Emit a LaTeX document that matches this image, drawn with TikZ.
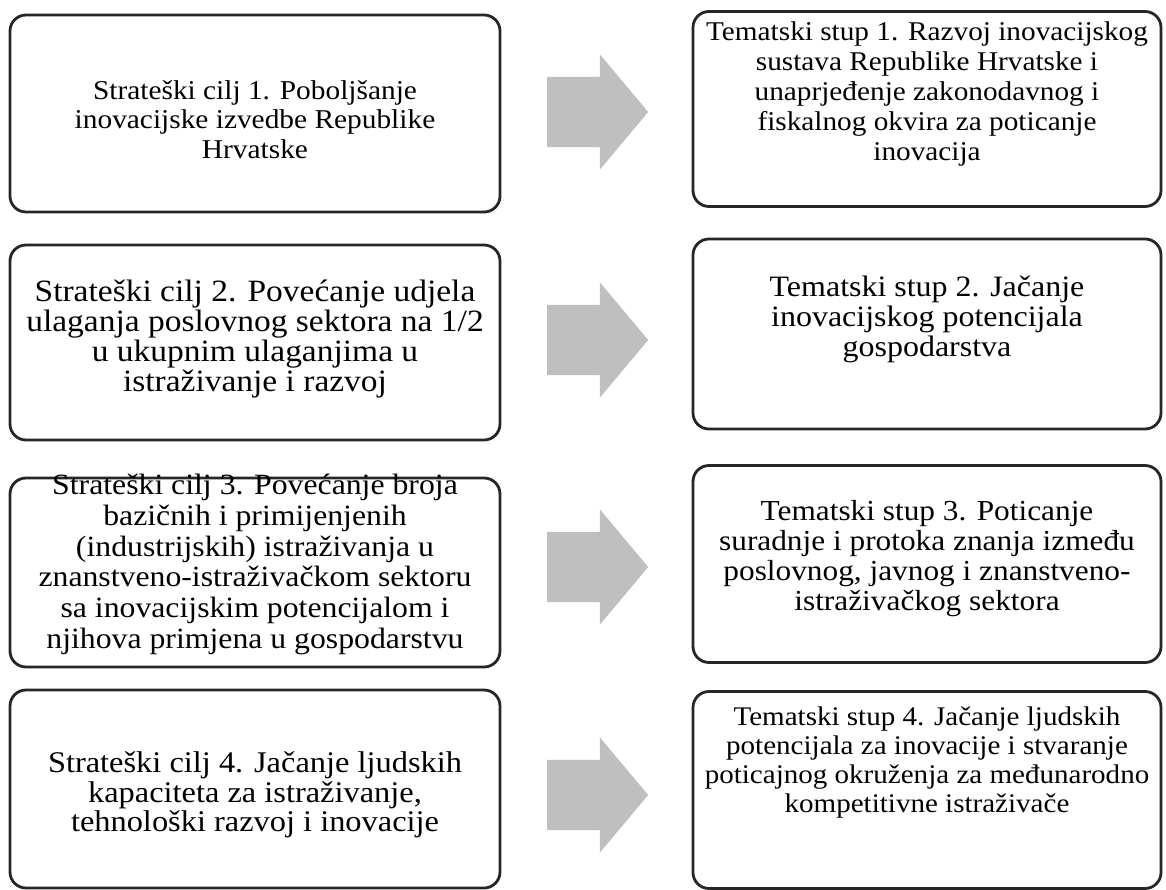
\documentclass[tikz,border=0pt]{standalone}
\usepackage{fontspec}
\setmainfont{Liberation Serif}[FakeStretch=1.08]
\usepackage{tikz}
\usetikzlibrary{shapes.arrows,calc}

\begin{document}
\begin{tikzpicture}[x=1pt,y=-1pt]
	\tikzstyle{goalbox}=[draw=black!85, line width=2.8pt, rounded corners=16pt, fill=white];
	\tikzstyle{pillarbox}=[goalbox, minimum width=468pt];
	\tikzstyle{stepbox}=[goalbox, minimum width=490pt];
	\tikzstyle{boxtext}=[align=center, inner sep=0pt];
	\tikzstyle{blockarrow}=[single arrow, fill=black!25, draw=none, inner xsep=0pt, inner ysep=35pt, minimum height=101pt, single arrow head extend=22.5pt, single arrow tip angle=100, anchor=tail];

	\useasboundingbox (0,0) rectangle (1166,890);

	% strateski ciljevi
	\node[stepbox, minimum height=197pt] (cilj1) at (255,113.5) {};
	\node[stepbox, minimum height=195pt] (cilj2) at (255,342.5) {};
	\node[stepbox, minimum height=189pt] (cilj3) at (255,572.5) {};
	\node[stepbox, minimum height=198pt] (cilj4) at (255,789) {};

	\node[boxtext, font=\fontsize{27.2}{29.5}\selectfont] (cilj1txt) at ($(cilj1)+(0,6)$) {Strateški cilj 1. Poboljšanje\\inovacijske izvedbe Republike\\Hrvatske};
	\node[boxtext, font=\fontsize{31}{30}\selectfont] (cilj2txt) at ($(cilj2)+(0,-3)$) {Strateški cilj 2. Povećanje udjela\\ulaganja poslovnog sektora na 1/2\\u ukupnim ulaganjima u\\istraživanje i razvoj};
	\node[boxtext, font=\fontsize{29.4}{30.7}\selectfont] (cilj3txt) at ($(cilj3)+(0,-8)$) {Strateški cilj 3. Povećanje broja\\bazičnih i primijenjenih\\(industrijskih) istraživanja u\\znanstveno-istraživačkom sektoru\\sa inovacijskim potencijalom i\\njihova primjena u gospodarstvu};
	\node[boxtext, font=\fontsize{30}{29.5}\selectfont] (cilj4txt) at ($(cilj4)+(0,6)$) {Strateški cilj 4. Jačanje ljudskih\\kapaciteta za istraživanje,\\tehnološki razvoj i inovacije};

	% tematski stupovi
	\node[pillarbox, minimum height=195pt] (stup1) at (927,109) {};
	\node[pillarbox, minimum height=190pt] (stup2) at (927,334) {};
	\node[pillarbox, minimum height=197pt] (stup3) at (927,564) {};
	\node[pillarbox, minimum height=197pt] (stup4) at (927,790) {};

	\node[boxtext, font=\fontsize{27.1}{30}\selectfont] (stup1txt) at ($(stup1)+(0,-15)$) {Tematski stup 1. Razvoj inovacijskog\\sustava Republike Hrvatske i\\unaprjeđenje zakonodavnog i\\fiskalnog okvira za poticanje\\inovacija};
	\node[boxtext, font=\fontsize{29.6}{30}\selectfont] (stup2txt) at ($(stup2)+(0,-15)$) {Tematski stup 2. Jačanje\\inovacijskog potencijala\\gospodarstva};
	\node[boxtext, font=\fontsize{29}{30}\selectfont] (stup3txt) at ($(stup3)+(0,-5)$) {Tematski stup 3. Poticanje\\suradnje i protoka znanja između\\poslovnog, javnog i znanstveno-\\istraživačkog sektora};
	\node[boxtext, font=\fontsize{26.9}{29}\selectfont] (stup4txt) at ($(stup4)+(0,-28)$) {Tematski stup 4. Jačanje ljudskih\\potencijala za inovacije i stvaranje\\poticajnog okruženja za međunarodno\\kompetitivne istraživače};

	% strelice
	\node[blockarrow] (str1) at (547,112) {};
	\node[blockarrow] (str2) at (547,340) {};
	\node[blockarrow] (str3) at (547,567) {};
	\node[blockarrow] (str4) at (547,795) {};

\end{tikzpicture}
\end{document}
